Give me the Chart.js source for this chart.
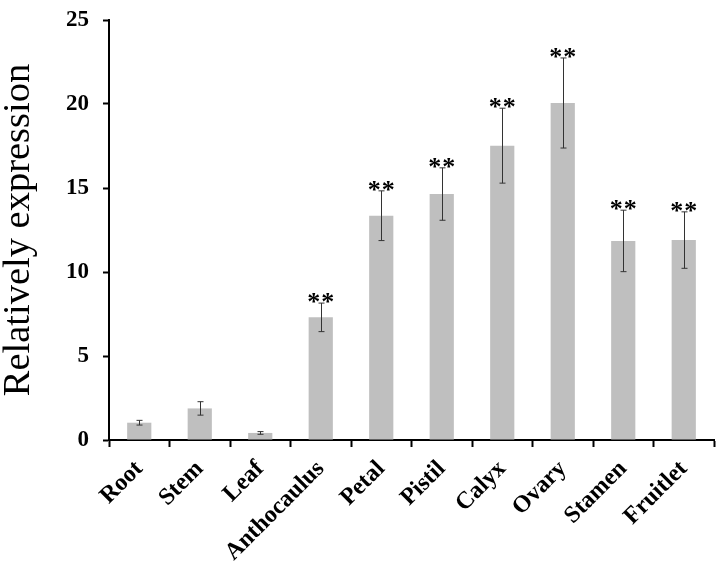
<!DOCTYPE html>
<html>
<head>
<meta charset="utf-8">
<script src="https://cdn.jsdelivr.net/npm/chart.js@4"></script>
<style>
    body { margin: 0; background: #ffffff; }
    #wrap { width: 720px; height: 570px; }
</style>
</head>
<body>
<div id="wrap"><canvas id="exprChart" width="720" height="570"></canvas></div>
<script>
const categorias = ['Root', 'Stem', 'Leaf', 'Anthocaulus', 'Petal', 'Pistil', 'Calyx', 'Ovary', 'Stamen', 'Fruitlet'];
const medias = [1.03, 1.88, 0.42, 7.3, 13.35, 14.64, 17.52, 20.06, 11.85, 11.9];
const errores = [0.14, 0.4, 0.08, 0.85, 1.48, 1.56, 2.23, 2.68, 1.83, 1.68];
const marcas = ['', '', '', '**', '**', '**', '**', '**', '**', '**'];
const ticksY = [0, 5, 10, 15, 20, 25];

const fuente = "'Times New Roman', 'Liberation Serif', serif";

// barras de error y asteriscos
const errorBars = {
    id: 'errorBars',
    afterDatasetsDraw(chart) {
        const ctx = chart.ctx;
        const y = chart.scales.y;
        const meta = chart.getDatasetMeta(0);
        ctx.save();
        meta.data.forEach((bar, i) => {
            const top = y.getPixelForValue(medias[i] + errores[i]);
            const bot = y.getPixelForValue(medias[i] - errores[i]);
            const x = Math.round(bar.x) + 0.5;
            ctx.strokeStyle = '#333333';
            ctx.lineWidth = 1;
            ctx.beginPath();
            ctx.moveTo(x, top); ctx.lineTo(x, bot);
            ctx.moveTo(x - 3, top); ctx.lineTo(x + 3, top);
            ctx.moveTo(x - 3, bot); ctx.lineTo(x + 3, bot);
            ctx.stroke();
            if (marcas[i]) {
                ctx.fillStyle = '#000000';
                ctx.font = 'bold 26px ' + fuente;
                ctx.textAlign = 'center';
                ctx.textBaseline = 'alphabetic';
                const n = marcas[i].length;
                for (let k = 0; k < n; k++) {
                    ctx.fillText(marcas[i][k], bar.x + (k - (n - 1) / 2) * 14, top + 7);
                }
            }
        });
        ctx.restore();
    }
};

document.addEventListener('DOMContentLoaded', () => {
    const ctx = document.getElementById('exprChart');

    new Chart(ctx, {
        type: 'bar',
        data: {
            labels: categorias,
            datasets: [{
                data: medias,
                backgroundColor: '#bfbfbf',
                borderWidth: 0,
                barPercentage: 0.4,
                categoryPercentage: 1
            }]
        },
        options: {
            responsive: false,
            animation: false,
            layout: { padding: { left: 0, right: 6, top: 20, bottom: 0 } },
            plugins: {
                legend: { display: false },
                tooltip: { enabled: false }
            },
            scales: {
                x: {
                    grid: { display: true, drawOnChartArea: false, offset: true, tickLength: 7, tickColor: '#000', tickWidth: 2 },
                    border: { color: '#000', width: 2 },
                    ticks: {
                        color: '#000',
                        minRotation: 45,
                        maxRotation: 45,
                        padding: 8,
                        font: { family: fuente, size: 24, weight: 'bold' }
                    },
                    afterFit: (scale) => { scale.height = 130; }
                },
                y: {
                    min: 0,
                    max: 25,
                    afterBuildTicks: (scale) => { scale.ticks = ticksY.map(v => ({ value: v })); },
                    grid: { display: true, drawOnChartArea: false, tickLength: 6, tickColor: '#000', tickWidth: 2 },
                    border: { color: '#000', width: 2 },
                    ticks: {
                        color: '#000',
                        padding: 14,
                        font: { family: fuente, size: 23, weight: 'bold', lineHeight: 0.4 }
                    },
                    title: {
                        display: true,
                        text: 'Relatively expression',
                        color: '#000',
                        padding: { top: 0, bottom: 0 },
                        font: { family: fuente, size: 38.5, weight: 'normal', lineHeight: 1 }
                    },
                    afterFit: (scale) => { scale.width = 109; }
                }
            }
        },
        plugins: [errorBars]
    });
});
</script>
</body>
</html>
